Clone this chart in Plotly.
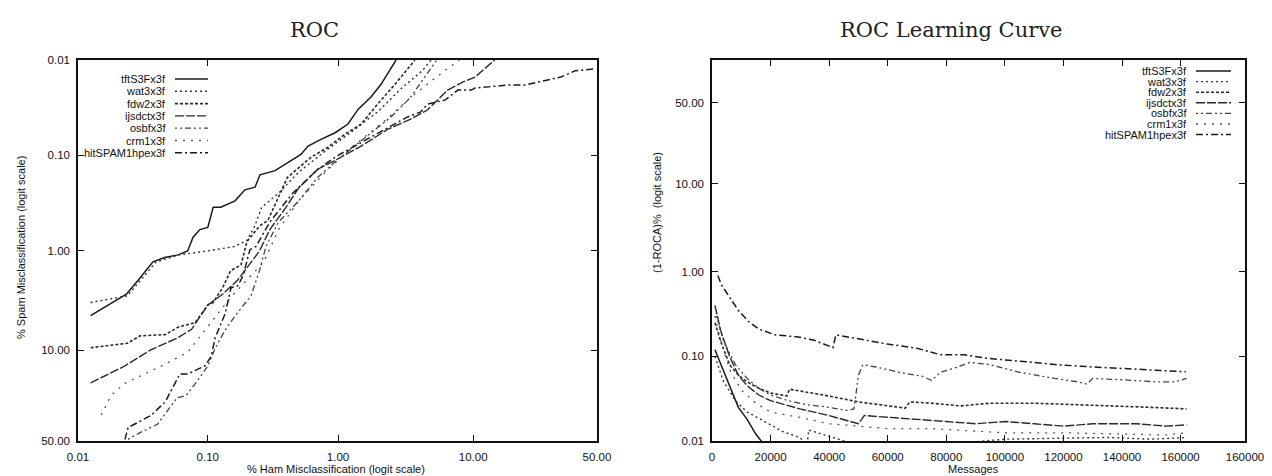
import numpy as np
import plotly.graph_objects as go

W, H = 1272, 476

series_names = ["tftS3Fx3f", "wat3x3f", "fdw2x3f", "ijsdctx3f", "osbfx3f", "crm1x3f", "hitSPAM1hpex3f"]

# ---------------- ROC data: (% ham misclassification, % spam misclassification) ----------------
roc_tft_ham = [0.0125, 0.0236, 0.0296, 0.0378, 0.0465, 0.059, 0.07, 0.077, 0.087, 0.1, 0.11, 0.126, 0.162, 0.193,
               0.231, 0.252, 0.329, 0.414, 0.52, 0.59, 0.74, 0.95, 1.19, 1.42, 1.78, 2.12, 2.75]
roc_tft_spam = [4.6, 2.8, 1.95, 1.3, 1.17, 1.1, 1.0, 0.72, 0.6, 0.57, 0.35, 0.35, 0.3, 0.23,
                0.216, 0.16, 0.145, 0.12, 0.098, 0.08, 0.068, 0.058, 0.047, 0.033, 0.0245, 0.018, 0.01]

roc_wat_ham = [0.0125, 0.024, 0.04, 0.06, 0.1, 0.13, 0.16, 0.2, 0.23, 0.26, 0.35, 0.5, 0.8, 1.2, 2.0, 3.0, 4.3, 5.0]
roc_wat_spam = [3.4, 2.9, 1.3, 1.1, 1.0, 0.95, 0.9, 0.78, 0.55, 0.35, 0.25, 0.15, 0.09, 0.06, 0.035, 0.02, 0.013, 0.01]

roc_fdw_ham = [0.0125, 0.024, 0.03, 0.047, 0.059, 0.08, 0.1, 0.11, 0.13, 0.15, 0.18, 0.2, 0.25, 0.29, 0.41, 0.62,
               0.84, 1.13, 1.5, 2.0, 2.7, 3.8]
roc_fdw_spam = [9.5, 8.6, 7.3, 7.1, 6.0, 5.4, 3.6, 3.4, 2.4, 1.6, 1.4, 0.8, 0.55, 0.48, 0.17, 0.105,
                0.082, 0.06, 0.047, 0.029, 0.018, 0.01]

roc_ijs_ham = [0.0125, 0.023, 0.036, 0.059, 0.075, 0.1, 0.13, 0.17, 0.2, 0.25, 0.3, 0.4, 0.5, 0.7, 0.95, 1.5,
               2.4, 3.5, 4.7, 6.6, 8.5, 10.3, 14.0]
roc_ijs_spam = [19.7, 14.0, 10.0, 7.6, 6.3, 3.6, 2.8, 2.0, 1.5, 1.0, 0.6, 0.35, 0.22, 0.14, 0.113, 0.08,
                0.053, 0.042, 0.0335, 0.0207, 0.017, 0.0151, 0.01]

roc_osb_ham = [0.0243, 0.03, 0.041, 0.058, 0.068, 0.083, 0.1, 0.114, 0.136, 0.165, 0.215, 0.25, 0.28, 0.35, 0.5,
               0.7, 1.0, 1.5, 2.5, 3.5, 4.5, 5.5]
roc_osb_spam = [49.0, 45.0, 40.0, 26.0, 25.0, 19.0, 14.0, 9.6, 6.4, 4.5, 2.9, 1.6, 0.9, 0.5, 0.3,
                0.17, 0.11, 0.07, 0.04, 0.025, 0.015, 0.01]

roc_crm_ham = [0.0151, 0.018, 0.0227, 0.035, 0.044, 0.07, 0.114, 0.15, 0.2, 0.27, 0.35, 0.5, 0.8, 1.3, 2.2,
               3.5, 5.5, 8.0]
roc_crm_spam = [34.8, 25.0, 20.0, 16.0, 14.0, 10.5, 4.7, 3.0, 2.0, 1.3, 0.6, 0.3, 0.15, 0.08, 0.045,
                0.025, 0.015, 0.01]

roc_hit_ham = [0.023, 0.0243, 0.0365, 0.047, 0.061, 0.07, 0.095, 0.106, 0.114, 0.136, 0.151, 0.17, 0.187, 0.211,
               0.235, 0.3, 0.45, 0.7, 1.0, 1.6, 2.5, 3.3, 4.2, 4.7, 6.3, 7.8, 9.7, 10.3, 17.1, 21.8, 34.5,
               40.4, 49.1]
roc_hit_spam = [49.0, 42.0, 35.0, 28.0, 16.5, 16.5, 14.0, 11.5, 7.6, 4.4, 2.4, 2.3, 1.8, 0.97,
                0.9, 0.5, 0.25, 0.14, 0.1, 0.07, 0.05, 0.04, 0.035, 0.029, 0.0264, 0.0207, 0.0207, 0.0197,
                0.0183, 0.0183, 0.0151, 0.013, 0.0124]

# ---------------- Learning curve data: (messages, (1-ROCA)%) ----------------
lc_tft_msgs = [1000, 3000, 6000, 9000, 12000, 15000, 17000, 19000]
lc_tft_val = [0.12, 0.08, 0.045, 0.025, 0.018, 0.012, 0.0098, 0.008]

lc_wat_msgs = [1000, 4000, 8000, 12000, 18000, 24000, 30000, 32500, 33000, 38000, 46000, 50000, 60000, 90000,
               100000, 120000, 135000, 150000, 162000]
lc_wat_val = [0.1, 0.05, 0.03, 0.022, 0.017, 0.013, 0.011, 0.009, 0.0135, 0.012, 0.0098, 0.0095, 0.0097, 0.0098,
              0.0105, 0.0108, 0.011, 0.0105, 0.011]

lc_fdw_msgs = [1000, 3000, 6000, 9000, 12000, 16000, 20000, 25500, 26500, 32000, 40000, 50000, 60000, 66000,
               67500, 75000, 85000, 95000, 110000, 125000, 140000, 150000, 162000]
lc_fdw_val = [0.25, 0.15, 0.08, 0.06, 0.05, 0.042, 0.037, 0.034, 0.041, 0.038, 0.034, 0.029, 0.026, 0.0245,
              0.029, 0.028, 0.026, 0.028, 0.028, 0.027, 0.026, 0.025, 0.024]

lc_ijs_msgs = [1000, 3000, 6000, 9000, 12000, 16000, 20000, 30000, 40000, 45000, 50000, 52000, 60000, 70000,
               80000, 90000, 100000, 110000, 120000, 130000, 145000, 155000, 162000]
lc_ijs_val = [0.4, 0.2, 0.1, 0.06, 0.045, 0.035, 0.03, 0.024, 0.02, 0.018, 0.016, 0.02, 0.019, 0.018,
              0.017, 0.016, 0.017, 0.016, 0.015, 0.016, 0.016, 0.015, 0.0155]

lc_osb_msgs = [1500, 4000, 8000, 12000, 16000, 20000, 26000, 32000, 40000, 46000, 48500, 50000, 51500, 56000,
               64000, 72000, 75000, 78000, 84000, 88000, 95000, 105000, 117000, 125000, 128000, 130000,
               140000, 152000, 158000, 162000]
lc_osb_val = [0.3, 0.15, 0.08, 0.055, 0.042, 0.035, 0.03, 0.027, 0.025, 0.023, 0.024, 0.06, 0.08, 0.075,
              0.065, 0.058, 0.052, 0.065, 0.075, 0.085, 0.08, 0.065, 0.055, 0.05, 0.047, 0.055,
              0.053, 0.05, 0.05, 0.055]

lc_crm_msgs = [1000, 3000, 6000, 10000, 15000, 20000, 30000, 40000, 50000, 60000, 75000, 90000, 100000,
               120000, 140000, 155000, 162000]
lc_crm_val = [0.3, 0.15, 0.07, 0.04, 0.028, 0.022, 0.019, 0.016, 0.015, 0.014, 0.014, 0.013, 0.0125,
              0.0125, 0.012, 0.0118, 0.0125]

lc_hit_msgs = [2000, 3200, 6000, 9000, 12400, 16000, 21500, 29400, 35000, 41300, 42300, 50000, 59900, 70000,
               77900, 86000, 93900, 105000, 117700, 130000, 140400, 150000, 161800]
lc_hit_val = [0.9, 0.7, 0.5, 0.35, 0.26, 0.21, 0.18, 0.17, 0.155, 0.127, 0.18, 0.16, 0.14, 0.125,
              0.105, 0.105, 0.095, 0.088, 0.08, 0.075, 0.072, 0.07, 0.066]

# ---------------- ticks ----------------
roc_tick_vals = [0.01, 0.1, 1.0, 10.0, 50.0]
roc_tick_text = ["0.01", "0.10", "1.00", "10.00", "50.00"]
lc_y_tick_vals = [0.01, 0.1, 1.0, 10.0, 50.0]
lc_y_tick_text = ["0.01", "0.10", "1.00", "10.00", "50.00"]
lc_x_tick_vals = [0, 20000, 40000, 60000, 80000, 100000, 120000, 140000, 160000, 182000]
lc_x_tick_text = ["0", "20000", "40000", "60000", "80000", "100000", "120000", "140000", "160000", "160000"]


def logit(p):
    f = np.asarray(p, dtype=float) / 100.0
    return np.log(f / (1.0 - f))


roc_series = [
    (roc_tft_ham, roc_tft_spam), (roc_wat_ham, roc_wat_spam), (roc_fdw_ham, roc_fdw_spam),
    (roc_ijs_ham, roc_ijs_spam), (roc_osb_ham, roc_osb_spam), (roc_crm_ham, roc_crm_spam),
    (roc_hit_ham, roc_hit_spam),
]
lc_series = [
    (lc_tft_msgs, lc_tft_val), (lc_wat_msgs, lc_wat_val), (lc_fdw_msgs, lc_fdw_val),
    (lc_ijs_msgs, lc_ijs_val), (lc_osb_msgs, lc_osb_val), (lc_crm_msgs, lc_crm_val),
    (lc_hit_msgs, lc_hit_val),
]
styles = [
    dict(dash="solid", width=1.5, color="#1a1a1a"),
    dict(dash="2px,3px", width=1.4, color="#333333"),
    dict(dash="3px,2px", width=1.6, color="#2a2a2a"),
    dict(dash="9px,2px", width=1.4, color="#2a2a2a"),
    dict(dash="2px,3px,2px,3px,6px,3px", width=1.3, color="#444444"),
    dict(dash="2px,6px", width=1.3, color="#555555"),
    dict(dash="7px,3px,2px,3px", width=1.5, color="#1a1a1a"),
]

fig = go.Figure()
for (ham, spam), st, nm in zip(roc_series, styles, series_names):
    fig.add_trace(go.Scatter(x=logit(ham), y=logit(spam), mode="lines", name=nm, line=st,
                             xaxis="x", yaxis="y", showlegend=False))
for (msgs, val), st, nm in zip(lc_series, styles, series_names):
    fig.add_trace(go.Scatter(x=msgs, y=logit(val), mode="lines", name=nm, line=st,
                             xaxis="x2", yaxis="y2", showlegend=False))

tickfont = dict(family="Liberation Sans, Arial, sans-serif", size=11.5, color="#111111")
axis_common = dict(showline=True, linecolor="#111111", linewidth=1.5, mirror="ticks", ticks="inside",
                   ticklen=6, tickwidth=1.3, tickcolor="#111111", showgrid=False, zeroline=False,
                   tickfont=tickfont, ticklabelstandoff=4)

ydom = [1 - 433 / H, 1 - 52 / H]
fig.update_layout(
    width=W, height=H, margin=dict(l=0, r=0, t=0, b=0),
    paper_bgcolor="white", plot_bgcolor="white", template="none",
    xaxis=dict(domain=[70 / W, 589 / W], range=[float(logit(0.01)), float(logit(50))],
               tickvals=logit(roc_tick_vals), ticktext=roc_tick_text, anchor="y", **axis_common),
    yaxis=dict(domain=ydom, range=[float(logit(50)), float(logit(0.01))],
               tickvals=logit(roc_tick_vals), ticktext=roc_tick_text, anchor="x", **axis_common),
    xaxis2=dict(domain=[704 / W, 1237 / W], range=[0, 182000],
                tickvals=lc_x_tick_vals, ticktext=lc_x_tick_text, anchor="y2", **axis_common),
    yaxis2=dict(domain=ydom, range=[float(logit(0.01)), float(logit(76.3))],
                tickvals=logit(lc_y_tick_vals), ticktext=lc_y_tick_text, anchor="x2", **axis_common),
)

ann = []
titlefont = dict(family="DejaVu Serif, serif", size=21, color="#222222")
ann.append(dict(text="ROC", x=306 / W, y=1 - 22 / H, xref="paper", yref="paper", showarrow=False,
                xanchor="center", yanchor="middle", font=titlefont))
ann.append(dict(text="ROC Learning Curve", x=943 / W, y=1 - 22 / H, xref="paper", yref="paper",
                showarrow=False, xanchor="center", yanchor="middle", font=titlefont))
labfont = dict(family="Liberation Sans, Arial, sans-serif", size=11, color="#111111")
ann.append(dict(text="% Ham Misclassification (logit scale)", x=328 / W, y=1 - 461 / H, xref="paper",
                yref="paper", showarrow=False, xanchor="center", yanchor="middle", font=labfont))
ann.append(dict(text="% Spam Misclassification (logit scale)", x=13 / W, y=1 - 240 / H, xref="paper",
                yref="paper", showarrow=False, xanchor="center", yanchor="middle", textangle=-90,
                font=labfont))
ann.append(dict(text="Messages", x=965 / W, y=1 - 461 / H, xref="paper", yref="paper", showarrow=False,
                xanchor="center", yanchor="middle", font=labfont))
ann.append(dict(text="(1-ROCA)%  (logit scale)", x=649 / W, y=1 - 205 / H, xref="paper", yref="paper",
                showarrow=False, xanchor="center", yanchor="middle", textangle=-90, font=labfont))

# legends drawn as in the original (text right-aligned, sample on the right)
legfont = dict(family="Liberation Sans, Arial, sans-serif", size=11, color="#111111")
shapes = []
for i, (nm, st) in enumerate(zip(series_names, styles)):
    for (tx, s0, s1, y0, dy) in [(160, 167, 200, 71, 12.3), (1181, 1188, 1223, 63, 10.6)]:
        yy = y0 + i * dy
        ann.append(dict(text=nm, x=tx / W, y=1 - yy / H, xref="paper", yref="paper", showarrow=False,
                        xanchor="right", yanchor="middle", font=legfont))
        shapes.append(dict(type="line", xref="paper", yref="paper", x0=s0 / W, x1=s1 / W,
                           y0=1 - yy / H, y1=1 - yy / H, line=dict(color=st["color"], width=st["width"],
                                                                   dash=st["dash"])))
fig.update_layout(annotations=ann, shapes=shapes)

fig.write_html("out.html")
